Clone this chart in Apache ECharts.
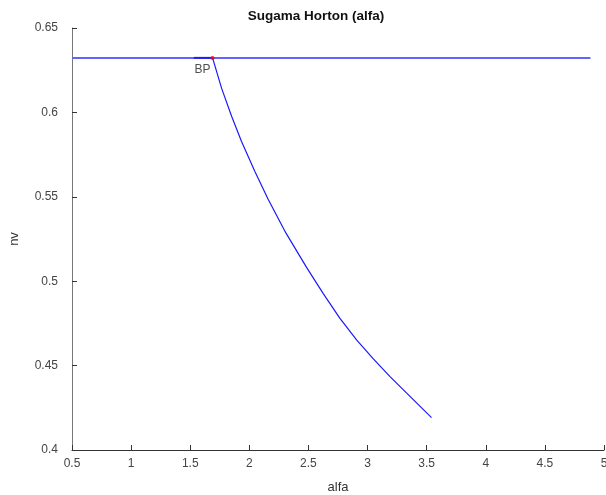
<!DOCTYPE html>
<html>
<head>
<meta charset="utf-8">
<script src="https://cdn.jsdelivr.net/npm/echarts@6/dist/echarts.min.js"></script>
<style>html,body{margin:0;padding:0;background:#fff;overflow:hidden}#c{width:606px;height:495px}</style>
</head>
<body>
<div id="c"></div>
<script>
// Values
var titleText = 'Sugama Horton (alfa)';
var xName = 'alfa';
var yName = 'nv';
var xMin = 0.5, xMax = 5, xStep = 0.5;
var yMin = 0.4, yMax = 0.65, yStep = 0.05;

// trivial branch (horizontal)
var trivialX = [0.5, 4.885];
var trivialY = [0.6323, 0.6323];
// short darker overlapping segment near BP
var segX = [1.53, 1.689];
var segY = [0.6323, 0.6323];

// bifurcated branch
var curveX = [1.689, 1.765, 1.850, 1.934, 2.047, 2.159, 2.309, 2.484, 2.624, 2.765, 2.907, 3.047, 3.188, 3.329, 3.541];
var curveY = [0.6323, 0.6144, 0.5977, 0.5828, 0.5650, 0.5485, 0.5286, 0.5082, 0.4928, 0.4781, 0.4652, 0.4541, 0.4436, 0.4338, 0.4192];

// branch point
var bpX = [1.689];
var bpY = [0.6323];
var bpLabel = 'BP';

function zip(a, b) { return a.map(function (v, i) { return [v, b[i]]; }); }

var chart = echarts.init(document.getElementById('c'), null, { renderer: 'canvas' });
var font = 'Liberation Sans, Arial, sans-serif';
chart.setOption({
  animation: false,
  backgroundColor: '#fff',
  graphic: [{
    type: 'text', x: 316, y: 16,
    style: { text: titleText, font: 'bold 13.5px ' + font, fill: '#111', textAlign: 'center', textVerticalAlign: 'middle' }
  }],
  grid: { left: 72, right: 2, top: 28, bottom: 45, containLabel: false, outerBoundsMode: 'none' },
  xAxis: {
    type: 'value', min: xMin, max: xMax, interval: xStep,
    name: xName, nameLocation: 'middle', nameGap: 31,
    nameTextStyle: { fontFamily: font, fontSize: 13, color: '#333' },
    axisLine: { show: true, lineStyle: { color: '#333', width: 1 } },
    axisTick: { show: true, inside: true, length: 5, lineStyle: { color: '#333' } },
    axisLabel: { fontFamily: font, fontSize: 12, color: '#444', margin: 8 },
    splitLine: { show: false }
  },
  yAxis: {
    type: 'value', min: yMin, max: yMax, interval: yStep,
    name: yName, nameLocation: 'middle', nameGap: 51, nameRotate: 90,
    nameTextStyle: { fontFamily: font, fontSize: 13, color: '#333' },
    axisLine: { show: true, lineStyle: { color: '#777', width: 1 } },
    axisTick: { show: true, inside: true, length: 5, lineStyle: { color: '#333' } },
    axisLabel: { fontFamily: font, fontSize: 12, color: '#444', margin: 14, padding: [0, 0, 4, 0] },
    splitLine: { show: false }
  },
  series: [
    {
      type: 'line', data: zip(trivialX, trivialY), symbol: 'none',
      lineStyle: { color: '#6262ff', width: 2 }, z: 2
    },
    {
      type: 'line', data: zip(segX, segY), symbol: 'none',
      lineStyle: { color: '#2020ee', width: 2 }, z: 3
    },
    {
      type: 'line', data: zip(curveX, curveY), symbol: 'none', smooth: false,
      lineStyle: { color: '#1a1aff', width: 1.2 }, z: 3
    },
    {
      type: 'scatter', data: zip(bpX, bpY), symbol: 'circle', symbolSize: 4,
      itemStyle: { color: '#ff0000' }, z: 5,
      label: {
        show: true, formatter: bpLabel, position: 'bottom', distance: 3, offset: [-10, 1],
        fontFamily: font, fontSize: 12, color: '#222'
      }
    }
  ]
});
</script>
</body>
</html>
